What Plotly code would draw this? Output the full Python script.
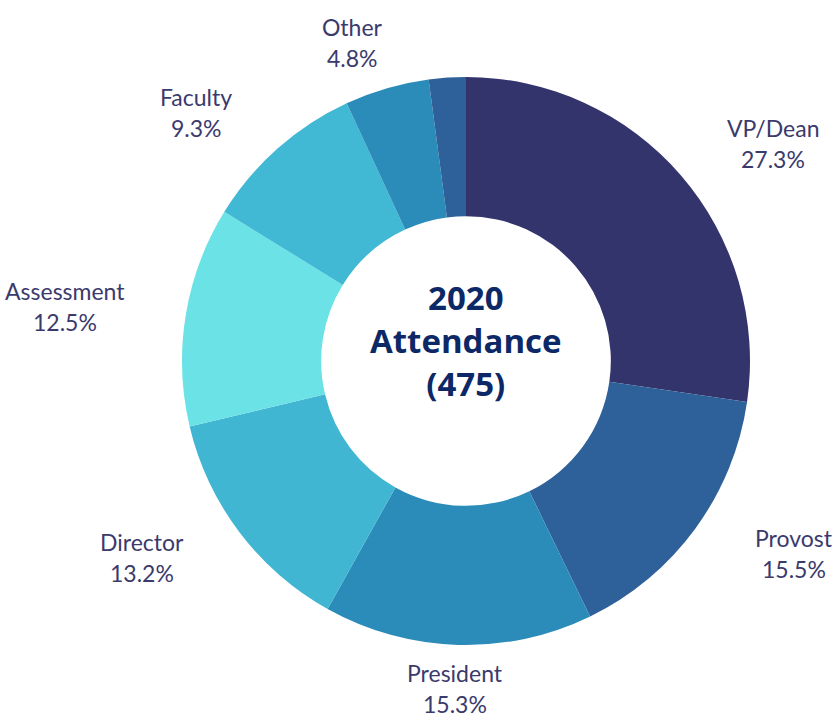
import math
import plotly.graph_objects as go

# ---- data ----
categories = ["VP/Dean", "Provost", "President", "Director", "Assessment", "Faculty", "Other", ""]
percentages = [27.3, 15.5, 15.3, 13.2, 12.5, 9.3, 4.8, 2.1]
colors = ["#33346c", "#2e6099", "#2b8bb9", "#41b6d3", "#6be2e6", "#41b8d4", "#2b8bb9", "#2e6099"]
center_lines = ["2020", "Attendance", "(475)"]

W, H = 840, 719

# donut placement in pixels (center + radius)
cx_px, cy_px, r_px = 466, 361, 284
dom_x = [(cx_px - r_px) / W, (cx_px + r_px) / W]
dom_y = [1 - (cy_px + r_px) / H, 1 - (cy_px - r_px) / H]

fig = go.Figure(go.Pie(
    labels=categories,
    values=percentages,
    marker=dict(colors=colors, line=dict(width=0)),
    hole=0.51,
    sort=False,
    direction="clockwise",
    rotation=0,
    textinfo="none",
    hoverinfo="label+value",
    showlegend=False,
    domain=dict(x=dom_x, y=dom_y),
))

# outside labels placed at each slice's mid-angle (on an ellipse around the ring)
total = sum(percentages)
rx, ry = 1.43 * r_px, 1.16 * r_px
lcy = cy_px - 2
label_font = dict(family="Lato", size=23, color="#3b3a6c")
annotations = []
cum = 0.0
for lab, v in zip(categories, percentages):
    mid = (cum + v / 2) / total * 2 * math.pi
    cum += v
    if not lab:
        continue
    x = cx_px + math.sin(mid) * rx
    y = lcy - math.cos(mid) * ry
    for txt, dy in ((lab, -15.5), (f"{v:.1f}%", 15.5)):
        annotations.append(dict(
            x=x / W, y=1 - (y + dy) / H, xref="paper", yref="paper",
            text=txt, showarrow=False, font=label_font,
            xanchor="center", yanchor="middle", align="center",
        ))

annotations.append(dict(
    x=cx_px / W, y=1 - (cy_px - 21) / H, xref="paper", yref="paper",
    text="<br>".join(f"<b>{t}</b>" for t in center_lines), showarrow=False,
    font=dict(family="Open Sans", size=33, color="#0c2866"),
    xanchor="center", yanchor="middle", align="center",
))

fig.update_layout(
    width=W, height=H,
    margin=dict(l=0, r=0, t=0, b=0),
    paper_bgcolor="white", plot_bgcolor="white",
    annotations=annotations,
)

fig.write_html(
    "out.html",
    config={"displayModeBar": False},
    post_script="document.body.style.margin='0';",
)
